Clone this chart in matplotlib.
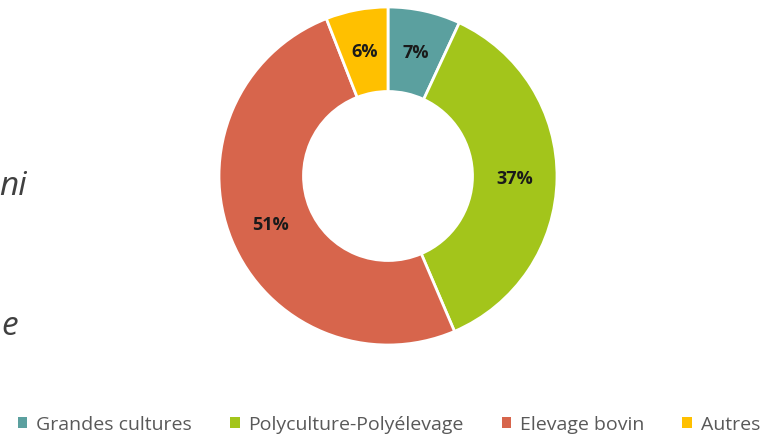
import numpy as np
import matplotlib.pyplot as plt
from matplotlib.patches import Patch

categories = ['Grandes cultures', 'Polyculture-Polyélevage', 'Elevage bovin', 'Autres']
values = [7, 37, 51, 6]
labels = ['7%', '37%', '51%', '6%']
colors = ['#5BA09F', '#A3C51B', '#D7654C', '#FFC000']

fig = plt.figure(figsize=(7.67, 4.35), dpi=100)
W, H = 767., 435.
cx, cy, r = 388., 177., 169.
ax = fig.add_axes([(cx - r) / W, (H - cy - r) / H, 2 * r / W, 2 * r / H])

wedges, _ = ax.pie(values, colors=colors, startangle=90, counterclock=False,
                   radius=1.0, wedgeprops=dict(width=0.5, edgecolor='white', linewidth=2))
ax.set_aspect('equal')
ax.set_xlim(-1, 1)
ax.set_ylim(-1, 1)
ax.axis('off')

# percentage labels in the middle of the ring
tot = float(sum(values))
start = 90.
for v, lab in zip(values, labels):
    ang = np.deg2rad(start - v / tot * 360 / 2)
    ax.text(0.75 * np.cos(ang), 0.75 * np.sin(ang), lab, ha='center', va='center',
            fontsize=13, fontweight='bold', color='#1a1a1a', family='Open Sans')
    start -= v / tot * 360

handles = [Patch(facecolor=c, edgecolor='none') for c in colors]
fig.legend(handles, categories, loc='center', bbox_to_anchor=(389 / W, 1 - 425 / H), ncol=4,
           frameon=False, handlelength=0.5, handleheight=0.5, handletextpad=0.45,
           columnspacing=1.95, borderpad=0, prop=dict(family='Open Sans', size=14),
           labelcolor='#595959')

# partly visible slide text on the left edge
fig.text(27 / W, 1 - 187 / H, 'ni', ha='right', va='center', fontsize=24,
         style='italic', color='#404040', family='Open Sans')
fig.text(18 / W, 1 - 327 / H, 'e', ha='right', va='center', fontsize=24,
         style='italic', color='#404040', family='Open Sans')

fig.savefig('out.png', dpi=100)
